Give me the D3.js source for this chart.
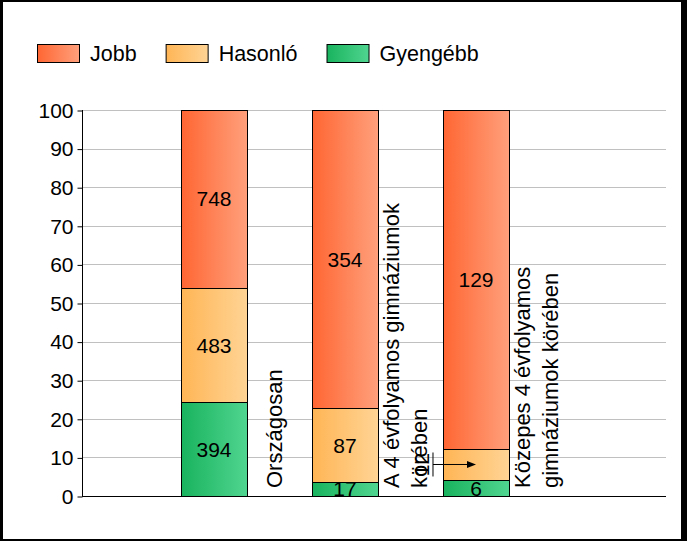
<!DOCTYPE html>
<html>
<head>
<meta charset="utf-8">
<script src="https://cdn.jsdelivr.net/npm/d3@7"></script>
<style>
  body { margin: 0; background: #fff; }
  text { font-family: "Liberation Sans", Arial, sans-serif; font-size: 21px; fill: #000; }
  .cat { font-size: 22px; }
  .leg { font-size: 21.5px; }
</style>
</head>
<body>
<div class="chart"></div>
<script>
// Data
const categories = ["Országosan", "A 4 évfolyamos gimnáziumok körében", "Közepes 4 évfolyamos gimnáziumok körében"];
const categoryLines = [["Országosan"], ["A 4 évfolyamos gimnáziumok", "körében"], ["Közepes 4 évfolyamos", "gimnáziumok körében"]];
const seriesNames = ["Gyengébb", "Hasonló", "Jobb"];
const gyengebb = [394, 17, 6];
const hasonlo = [483, 87, 12];
const jobb = [748, 354, 129];
const legendOrder = ["Jobb", "Hasonló", "Gyengébb"];
// labels that are drawn outside the bar with an arrow
const callouts = [{ series: "Hasonló", category: categories[2] }];

// Sizes
const w = 687;
const h = 541;
const margin = { top: 110, right: 21, bottom: 45, left: 82 };

const colors = {
  "Jobb": ["#ff6633", "#ffa07c"],
  "Hasonló": ["#ffb555", "#ffd495"],
  "Gyengébb": ["#19b35e", "#50d590"]
};

const svg = d3.select(".chart").append("svg")
  .attr("width", w)
  .attr("height", h);

// Frame
svg.append("rect").attr("width", w).attr("height", h).attr("fill", "#000");
svg.append("rect").attr("x", 3).attr("y", 2).attr("width", 678).attr("height", 537).attr("fill", "#fff");

// Gradients
const defs = svg.append("defs");
seriesNames.forEach((s, i) => {
  const g = defs.append("linearGradient").attr("id", "grad" + i)
    .attr("x1", "0%").attr("x2", "100%").attr("y1", "0%").attr("y2", "0%");
  g.append("stop").attr("offset", "0%").attr("stop-color", colors[s][0]);
  g.append("stop").attr("offset", "100%").attr("stop-color", colors[s][1]);
});
const fillOf = (s) => `url(#grad${seriesNames.indexOf(s)})`;

// Table
const table = categories.map((c, i) => ({
  category: c,
  "Gyengébb": gyengebb[i],
  "Hasonló": hasonlo[i],
  "Jobb": jobb[i]
}));
const stacked = d3.stack().keys(seriesNames).offset(d3.stackOffsetExpand)(table);

// Scales
const xScale = d3.scaleBand()
  .domain(categories)
  .range([148.5, 541.5])
  .paddingInner(0.496)
  .paddingOuter(0.248);

const yScale = d3.scaleLinear()
  .domain([0, 100])
  .range([h - margin.bottom, margin.top]);

// Grid
svg.append("g")
  .selectAll("line")
  .data(yScale.ticks(10))
  .enter()
  .append("line")
  .attr("x1", margin.left)
  .attr("x2", w - margin.right)
  .attr("y1", (d) => Math.round(yScale(d)) + 0.5)
  .attr("y2", (d) => Math.round(yScale(d)) + 0.5)
  .attr("stroke", "#c0c0c0");

// Y Axis
const yAxis = svg.append("g")
  .attr("transform", `translate(${margin.left + 0.5}, 0.5)`)
  .call(d3.axisLeft(yScale).ticks(10).tickSize(5).tickPadding(4));
yAxis.select(".domain").remove();
yAxis.selectAll(".tick line").attr("stroke", "#000");
yAxis.attr("font-size", null).attr("font-family", null);

// Bars
const layers = svg.append("g")
  .selectAll("g")
  .data(stacked)
  .enter()
  .append("g");

layers.selectAll("rect")
  .data((d) => d.map((p) => ({ key: d.key, p })))
  .enter()
  .append("rect")
  .attr("x", (d) => Math.round(xScale(d.p.data.category)) + 0.5)
  .attr("y", (d) => Math.round(yScale(d.p[1] * 100)) + 0.5)
  .attr("width", Math.round(xScale.bandwidth()))
  .attr("height", (d) => Math.round(yScale(d.p[0] * 100)) - Math.round(yScale(d.p[1] * 100)))
  .attr("fill", (d) => fillOf(d.key))
  .attr("stroke", "#000");

// Axis lines
svg.append("line")
  .attr("x1", margin.left + 0.5).attr("x2", margin.left + 0.5)
  .attr("y1", margin.top).attr("y2", h - margin.bottom)
  .attr("stroke", "#000");
svg.append("line")
  .attr("x1", margin.left).attr("x2", w - margin.right)
  .attr("y1", h - margin.bottom + 0.5).attr("y2", h - margin.bottom + 0.5)
  .attr("stroke", "#000");

// Value labels
const isCallout = (k, c) => callouts.some((o) => o.series === k && o.category === c);
layers.selectAll("text")
  .data((d) => d.map((p) => ({ key: d.key, p })).filter((d) => !isCallout(d.key, d.p.data.category)))
  .enter()
  .append("text")
  .attr("x", (d) => xScale(d.p.data.category) + xScale.bandwidth() / 2)
  .attr("y", (d) => (yScale(d.p[0] * 100) + yScale(d.p[1] * 100)) / 2)
  .attr("dy", "0.36em")
  .attr("text-anchor", "middle")
  .text((d) => d.p.data[d.key]);

// Callout labels
callouts.forEach((o) => {
  const layer = stacked.find((l) => l.key === o.series);
  const p = layer[categories.indexOf(o.category)];
  const cy = (yScale(p[0] * 100) + yScale(p[1] * 100)) / 2;
  const left = xScale(o.category);
  const cx = left + xScale.bandwidth() / 2;
  const lx = left - 10;
  svg.append("line")
    .attr("x1", lx).attr("x2", lx)
    .attr("y1", cy - 12).attr("y2", cy + 12)
    .attr("stroke", "#000").attr("stroke-width", 1);
  svg.append("line")
    .attr("x1", lx).attr("x2", cx - 8)
    .attr("y1", cy).attr("y2", cy)
    .attr("stroke", "#000");
  svg.append("path")
    .attr("d", `M${cx},${cy} L${cx - 9},${cy - 3.5} L${cx - 9},${cy + 3.5} Z`)
    .attr("fill", "#000");
  svg.append("text")
    .attr("transform", `translate(${lx - 4}, ${cy}) rotate(-90)`)
    .attr("text-anchor", "middle")
    .text(p.data[o.series]);
});

// Category labels (rotated)
const lineH = 28;
categories.forEach((c, i) => {
  const lines = categoryLines[i];
  const center = xScale(c) + xScale.bandwidth() + 27;
  const g = svg.append("g")
    .attr("transform", `translate(${center}, ${h - margin.bottom - 8}) rotate(-90)`);
  lines.forEach((t, j) => {
    g.append("text")
      .attr("class", "cat")
      .attr("x", 0)
      .attr("y", (j - (lines.length - 1) / 2) * lineH + 7.5)
      .text(t);
  });
});

// Legend
const legend = svg.append("g").attr("transform", "translate(37, 44)");
let lxPos = 0;
legendOrder.forEach((s) => {
  const item = legend.append("g").attr("transform", `translate(${lxPos}, 0)`);
  item.append("rect")
    .attr("x", 0.5).attr("y", 0.5)
    .attr("width", 42).attr("height", 18)
    .attr("fill", fillOf(s))
    .attr("stroke", "#000");
  const t = item.append("text")
    .attr("class", "leg")
    .attr("x", 53)
    .attr("y", 17)
    .text(s);
  lxPos += 53 + t.node().getComputedTextLength() + 29;
});
</script>
</body>
</html>
